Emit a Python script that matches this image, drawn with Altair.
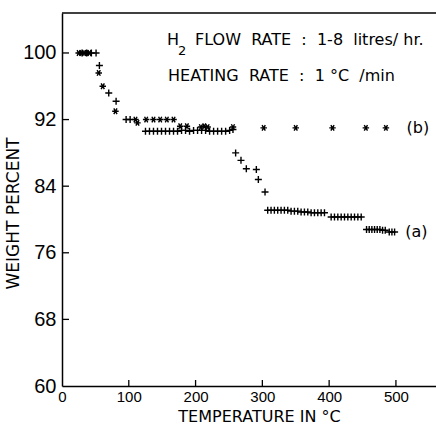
import altair as alt
import pandas as pd

# ---- data ----
a_temp = [30, 37, 44, 51, 56, 70, 81, 96, 102,
          125, 131, 137, 143, 149, 155, 161, 167, 173, 179, 185, 191, 197,
          203, 209, 215, 221, 227, 233, 239, 245, 251, 256,
          260, 268, 276, 291, 294, 304,
          308, 313, 318, 323, 328, 333, 338, 343, 348, 353,
          358, 363, 368, 373, 378, 383, 388, 393,
          403, 408, 413, 418, 423, 428, 433, 438, 443, 448,
          456, 460, 464, 468, 472, 476, 480, 484, 490, 494, 498]
a_weight = [100.0, 100.0, 100.0, 100.0, 98.5, 95.2, 94.2, 92.0, 92.0,
            90.6, 90.6, 90.6, 90.6, 90.6, 90.6, 90.6, 90.6, 90.6, 90.7, 90.7, 90.6, 90.7,
            90.7, 90.7, 90.7, 90.6, 90.6, 90.6, 90.6, 90.6, 90.7, 90.8,
            88.0, 87.1, 86.1, 86.0, 84.8, 83.3,
            81.1, 81.1, 81.1, 81.1, 81.1, 81.1, 81.1, 81.0, 81.0, 81.0,
            80.9, 80.9, 80.9, 80.8, 80.8, 80.8, 80.8, 80.8,
            80.3, 80.3, 80.3, 80.3, 80.3, 80.3, 80.3, 80.3, 80.3, 80.3,
            78.8, 78.8, 78.8, 78.8, 78.8, 78.8, 78.7, 78.7, 78.5, 78.5, 78.5]

b_temp = [25, 29, 33, 37, 41, 55, 61, 80, 110, 113,
          126, 137, 147, 157, 167, 177, 187, 208, 213, 218, 256,
          302, 350, 405, 455, 485]
b_weight = [100.0, 100.0, 100.0, 100.0, 100.0, 97.6, 96.0, 93.0, 92.0, 91.6,
            92.0, 92.0, 92.0, 92.0, 92.0, 91.2, 91.2, 91.1, 91.2, 91.1, 91.1,
            91.0, 91.0, 91.0, 91.0, 91.0]

curve_labels = ["(a)", "(b)"]
label_temp = [514, 516]
label_weight = [78.5, 91.0]

x_tick_values = [0, 100, 200, 300, 400, 500]
y_tick_values = [60, 68, 76, 84, 92, 100]
x_inner_ticks = [100, 200, 300, 400, 500]
y_inner_ticks = [68, 76, 84, 92, 100]

W, H = 374, 373
XDOM = [0, 560]
YDOM = [60, 104.8]

PLUS = "M-1,0L1,0M0,-1L0,1"
STAR = "M-1,0L1,0M-0.5,-0.87L0.5,0.87M-0.5,0.87L0.5,-0.87"
NB = "\u00a0"

df_a = pd.DataFrame({"T": a_temp, "W": a_weight})
df_b = pd.DataFrame({"T": b_temp, "W": b_weight})
df_lab = pd.DataFrame({"T": label_temp, "W": label_weight, "txt": curve_labels})
df_xt = pd.DataFrame({"T": x_inner_ticks})
df_yt = pd.DataFrame({"W": y_inner_ticks})
df_one = pd.DataFrame({"k": [0]})

xs = alt.Scale(domain=XDOM, nice=False, zero=False)
ys = alt.Scale(domain=YDOM, nice=False, zero=False)

xaxis = alt.Axis(values=x_tick_values, tickSize=0, grid=False, labelFont="Liberation Sans",
                 labelFontSize=15, labelColor="black", labelPadding=3, domainColor="black",
                 domainWidth=1.5, title="TEMPERATURE IN °C", titleFont="DejaVu Sans",
                 titleFontSize=16, titleFontWeight="normal", titleColor="black",
                 titleX=197, titleY=35, titleBaseline="alphabetic",
                 titleAlign="center", labelFlush=False, labelOverlap=False)
yaxis = alt.Axis(values=y_tick_values, tickSize=0, grid=False, labelFont="Liberation Sans",
                 labelFontSize=20, labelColor="black", labelPadding=6, domainColor="black",
                 domainWidth=1.5, title="WEIGHT PERCENT", titleFont="DejaVu Sans",
                 titleFontSize=17, titleFontWeight="normal", titleColor="black",
                 titleAngle=270, titleX=-44, titleY=200, titleBaseline="alphabetic",
                 titleAlign="center", labelFlush=False, labelOverlap=False)

base_a = alt.Chart(df_a).mark_point(shape=PLUS, size=49, filled=False, stroke="black",
                                    strokeWidth=1.4, opacity=1).encode(
    x=alt.X("T:Q", scale=xs, axis=xaxis),
    y=alt.Y("W:Q", scale=ys, axis=yaxis),
)
base_b = alt.Chart(df_b).mark_point(shape=STAR, size=42, filled=False, stroke="black",
                                    strokeWidth=1.4, opacity=1).encode(
    x=alt.X("T:Q", scale=xs), y=alt.Y("W:Q", scale=ys))

xt = alt.Chart(df_xt).mark_rule(color="black", strokeWidth=1.3).encode(
    x=alt.X("T:Q", scale=xs), y=alt.value(H), y2=alt.value(H - 6))
yt = alt.Chart(df_yt).mark_rule(color="black", strokeWidth=1.3).encode(
    y=alt.Y("W:Q", scale=ys), x=alt.value(0), x2=alt.value(7))
top_border = alt.Chart(df_one).mark_rule(color="black", strokeWidth=1.5).encode(
    x=alt.value(0), x2=alt.value(W), y=alt.value(0))

labels = alt.Chart(df_lab).mark_text(align="left", baseline="middle", font="DejaVu Sans",
                                     fontSize=16, color="black").encode(
    x=alt.X("T:Q", scale=xs), y=alt.Y("W:Q", scale=ys), text="txt:N")

tfont = dict(font="DejaVu Sans", color="black", align="left", baseline="alphabetic",
             fontWeight="normal")
line1 = f"FLOW {NB}RATE {NB}: {NB}1-8 {NB}litres/ hr."
line2 = f"HEATING {NB}RATE {NB}: {NB}1 °C {NB}/min"
t_h = alt.Chart(df_one).mark_text(text="H", fontSize=16, **tfont).encode(
    x=alt.value(105), y=alt.value(32))
t_2 = alt.Chart(df_one).mark_text(text="2", fontSize=13, **tfont).encode(
    x=alt.value(116), y=alt.value(42))
t_1 = alt.Chart(df_one).mark_text(text=line1, fontSize=16, **tfont).encode(
    x=alt.value(133), y=alt.value(32))
t_3 = alt.Chart(df_one).mark_text(text=line2, fontSize=16, **tfont).encode(
    x=alt.value(106), y=alt.value(68))

chart = alt.layer(base_a, base_b, xt, yt, top_border, labels, t_h, t_2, t_1, t_3).properties(
    width=W, height=H,
    autosize=alt.AutoSizeParams(type="none"),
    padding={"left": 62, "top": 13, "right": 0, "bottom": 46},
    background="white",
).configure_view(stroke=None)

chart.save("out.html", embed_options={"renderer": "svg", "actions": False})
